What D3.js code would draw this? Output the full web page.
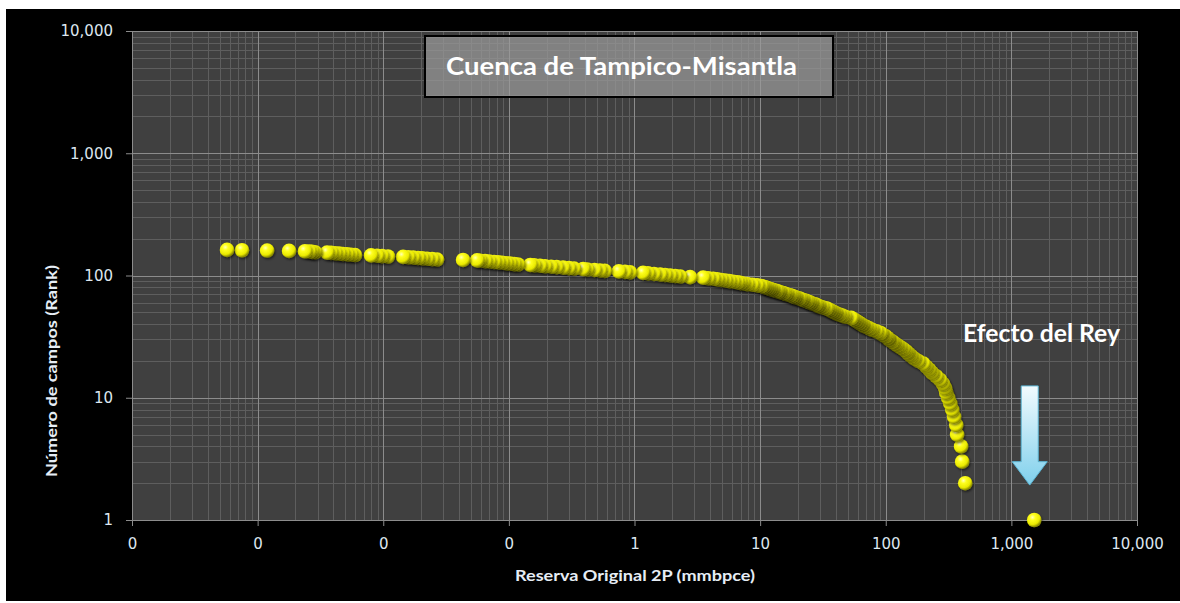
<!DOCTYPE html>
<html><head><meta charset="utf-8">
<script src="https://cdn.jsdelivr.net/npm/d3@7"></script>
<style>html,body{margin:0;padding:0;background:#fff;} svg{display:block}</style>
</head><body><svg id="c" width="1180" height="603"></svg>
<script>
// Reserva Original 2P (mmbpce), sorted from largest (rank 1) to smallest
const reserves = [
1520, 429, 406, 398, 370, 364, 350, 338, 326, 314,
303, 297, 286, 271, 252, 234, 222, 210, 199, 181,
168, 159, 151, 145, 138, 130, 123, 117, 112, 106,
103, 98.9, 93.6, 90.2, 83.9, 77.9, 73.8, 69.8, 66.1, 63.7,
61.4, 59.2, 57.1, 55.0, 53.0, 47.5, 45.0, 42.6, 40.3, 38.8,
37.4, 36.1, 34.8, 33.5, 31.2, 29.5, 28.4, 27.4, 25.9, 25.0,
24.1, 23.2, 22.0, 21.2, 20.4, 19.3, 18.6, 18.0, 17.3, 16.4,
15.8, 15.2, 14.4, 13.9, 13.4, 12.7, 12.2, 11.8, 11.4, 11.0,
10.6, 10.2, 9.46, 8.64, 7.88, 7.32, 6.93, 6.56, 6.10, 5.67,
5.27, 4.89, 4.55, 4.23, 3.85, 3.52, 2.77, 2.31, 2.11, 1.92,
1.75, 1.60, 1.43, 1.28, 1.17, 0.92, 0.84, 0.75, 0.58, 0.53,
0.48, 0.42, 0.39, 0.33, 0.30, 0.27, 0.24, 0.217, 0.194, 0.177,
0.159, 0.148, 0.118, 0.110, 0.102, 0.0950, 0.0883, 0.0820, 0.0762, 0.0696,
0.0646, 0.0590, 0.0558, 0.0432, 0.0268, 0.0245, 0.0223, 0.0204, 0.0189, 0.0173,
0.0158, 0.0144, 0.0109, 0.00978, 0.00893, 0.00800, 0.00596, 0.00554, 0.00515, 0.00478,
0.00445, 0.00413, 0.00384, 0.00357, 0.00286, 0.00271, 0.00257, 0.00238, 0.00178, 0.00119,
0.000751, 0.000571
];
// Número de campos (Rank)
const ranks = [
1,2,3,4,5,6,7,8,9,10,11,12,13,14,15,16,17,18,19,20,
21,22,23,24,25,26,27,28,29,30,31,32,33,34,35,36,37,38,39,40,
41,42,43,44,45,46,47,48,49,50,51,52,53,54,55,56,57,58,59,60,
61,62,63,64,65,66,67,68,69,70,71,72,73,74,75,76,77,78,79,80,
81,82,83,84,85,86,87,88,89,90,91,92,93,94,95,96,97,98,99,100,
101,102,103,104,105,106,107,108,109,110,111,112,113,114,115,116,117,118,119,120,
121,122,123,124,125,126,127,128,129,130,131,132,133,134,135,136,137,138,139,140,
141,142,143,144,145,146,147,148,149,150,151,152,153,154,155,156,157,158,159,160,
161,162
];
const xTickValues = [0.0001, 0.001, 0.01, 0.1, 1, 10, 100, 1000, 10000];
const xTickLabels = ["0", "0", "0", "0", "1", "10", "100", "1,000", "10,000"];
const yTickValues = [1, 10, 100, 1000, 10000];
const yTickLabels = ["1", "10", "100", "1,000", "10,000"];
const titleText = "Cuenca de Tampico-Misantla";
const noteText = "Efecto del Rey";
const xTitle = "Reserva Original  2P (mmbpce)";
const yTitle = "Número de campos  (Rank)";
// annotation arrow (data coords): x value, from rank -> to rank
const arrowX = 1400, arrowFrom = 12.5, arrowHeadStart = 3.0, arrowTo = 1.93;

const svg = d3.select("#c");
const W = 1180, H = 603;
const L = 132, R = 1137, T = 31, B = 520;

svg.append("rect").attr("x", 6).attr("y", 9).attr("width", W - 6).attr("height", 592).attr("fill", "#000");

const x = d3.scaleLog().domain([1e-4, 1e4]).range([L, R]);
const y = d3.scaleLog().domain([1, 1e4]).range([B, T]);

const defs = svg.append("defs");
const rg = defs.append("radialGradient").attr("id", "ball").attr("cx", "38%").attr("cy", "32%").attr("r", "65%");
rg.append("stop").attr("offset", "0%").attr("stop-color", "#ffffb8");
rg.append("stop").attr("offset", "30%").attr("stop-color", "#ffff20");
rg.append("stop").attr("offset", "75%").attr("stop-color", "#eaea00");
rg.append("stop").attr("offset", "100%").attr("stop-color", "#8c8c00");
const sh = defs.append("filter").attr("id", "sh").attr("x", "-50%").attr("y", "-50%").attr("width", "200%").attr("height", "200%");
sh.append("feDropShadow").attr("dx", 1).attr("dy", 1.5).attr("stdDeviation", 1.2).attr("flood-color", "#000").attr("flood-opacity", 0.55);
const ag = defs.append("linearGradient").attr("id", "arr").attr("x1", 0).attr("y1", 0).attr("x2", 0).attr("y2", 1);
ag.append("stop").attr("offset", "0%").attr("stop-color", "#f2fbfe");
ag.append("stop").attr("offset", "100%").attr("stop-color", "#7fd0ec");

// plot area
svg.append("rect").attr("x", L).attr("y", T).attr("width", R - L).attr("height", B - T).attr("fill", "#404040");

// minor gridlines
const minorX = [], minorY = [];
for (let e = -4; e < 4; e++) for (let m = 2; m <= 9; m++) minorX.push(m * Math.pow(10, e));
for (let e = 0; e < 4; e++) for (let m = 2; m <= 9; m++) minorY.push(m * Math.pow(10, e));
const grid = svg.append("g");
grid.selectAll(".mx").data(minorX).join("line")
  .attr("x1", d => Math.round(x(d)) + 0.5).attr("x2", d => Math.round(x(d)) + 0.5)
  .attr("y1", T).attr("y2", B).attr("stroke", "#5e5e5e").attr("stroke-width", 1);
grid.selectAll(".my").data(minorY).join("line")
  .attr("y1", d => Math.round(y(d)) + 0.5).attr("y2", d => Math.round(y(d)) + 0.5)
  .attr("x1", L).attr("x2", R).attr("stroke", "#5e5e5e").attr("stroke-width", 1);
grid.selectAll(".Mx").data(xTickValues).join("line")
  .attr("x1", d => Math.round(x(d)) + 0.5).attr("x2", d => Math.round(x(d)) + 0.5)
  .attr("y1", T).attr("y2", B).attr("stroke", "#8c8c8c").attr("stroke-width", 1);
grid.selectAll(".My").data(yTickValues).join("line")
  .attr("y1", d => Math.round(y(d)) + 0.5).attr("y2", d => Math.round(y(d)) + 0.5)
  .attr("x1", L).attr("x2", R).attr("stroke", "#8c8c8c").attr("stroke-width", 1);

// axes
const tickFont = "'DejaVu Sans', Verdana, sans-serif";
const xAxis = svg.append("g").attr("transform", `translate(0,${B})`)
  .call(d3.axisBottom(x).tickValues(xTickValues).tickFormat((d, i) => xTickLabels[i]).tickSize(6).tickPadding(12));
const yAxis = svg.append("g").attr("transform", `translate(${L},0)`)
  .call(d3.axisLeft(y).tickValues(yTickValues).tickFormat((d, i) => yTickLabels[i]).tickSize(6).tickPadding(13));
[xAxis, yAxis].forEach(a => {
  a.select(".domain").attr("stroke", "#8c8c8c");
  a.selectAll(".tick line").attr("stroke", "#8c8c8c");
  a.selectAll(".tick text").attr("fill", "#dde6ef").style("font-family", tickFont).style("font-size", "15px");
});

// title box
svg.append("rect").attr("x", 425).attr("y", 36).attr("width", 408).attr("height", 61)
  .attr("fill", "#9a9a9a").attr("fill-opacity", 0.72).attr("stroke", "#000").attr("stroke-width", 2);
svg.append("text").attr("x", 446).attr("y", 75).text(titleText)
  .attr("fill", "#fff").style("font-family", "Lato, 'Open Sans', sans-serif").style("font-weight", "bold")
  .style("font-size", "25px").attr("textLength", 351).attr("lengthAdjust", "spacingAndGlyphs");

// axis titles
svg.append("text").attr("x", 635).attr("y", 581).attr("text-anchor", "middle").text(xTitle)
  .attr("fill", "#e6edf5").style("font-family", "Lato, 'Open Sans', sans-serif").style("font-weight", "bold")
  .style("font-size", "15px").attr("textLength", 240).attr("lengthAdjust", "spacingAndGlyphs");
svg.append("text").attr("transform", "translate(57,371) rotate(-90)").attr("text-anchor", "middle").text(yTitle)
  .attr("fill", "#e6edf5").style("font-family", "Lato, 'Open Sans', sans-serif").style("font-weight", "bold")
  .style("font-size", "15px").attr("textLength", 212).attr("lengthAdjust", "spacingAndGlyphs");

// points
const pts = reserves.map((v, i) => ({ v, r: ranks[i] }));
svg.append("g").selectAll("circle").data(pts).join("circle")
  .attr("cx", d => x(d.v)).attr("cy", d => y(d.r)).attr("r", 7.3)
  .attr("fill", "url(#ball)").attr("filter", "url(#sh)");

// annotation
svg.append("text").attr("x", 963).attr("y", 342).text(noteText)
  .attr("fill", "#fff").style("font-family", "Lato, 'Open Sans', sans-serif").style("font-weight", "bold")
  .style("font-size", "24px").attr("textLength", 157).attr("lengthAdjust", "spacingAndGlyphs");
const ax = x(arrowX), ay0 = y(arrowFrom), ay1 = y(arrowHeadStart), ay2 = y(arrowTo);
const sw = 8.5, hw = 17.5;
const arrowPath = d3.path();
arrowPath.moveTo(ax - sw, ay0); arrowPath.lineTo(ax + sw, ay0); arrowPath.lineTo(ax + sw, ay1);
arrowPath.lineTo(ax + hw, ay1); arrowPath.lineTo(ax, ay2); arrowPath.lineTo(ax - hw, ay1);
arrowPath.lineTo(ax - sw, ay1); arrowPath.closePath();
svg.append("path").attr("d", arrowPath.toString()).attr("fill", "url(#arr)").attr("stroke", "#5db7d6").attr("stroke-width", 1);
</script></body></html>
